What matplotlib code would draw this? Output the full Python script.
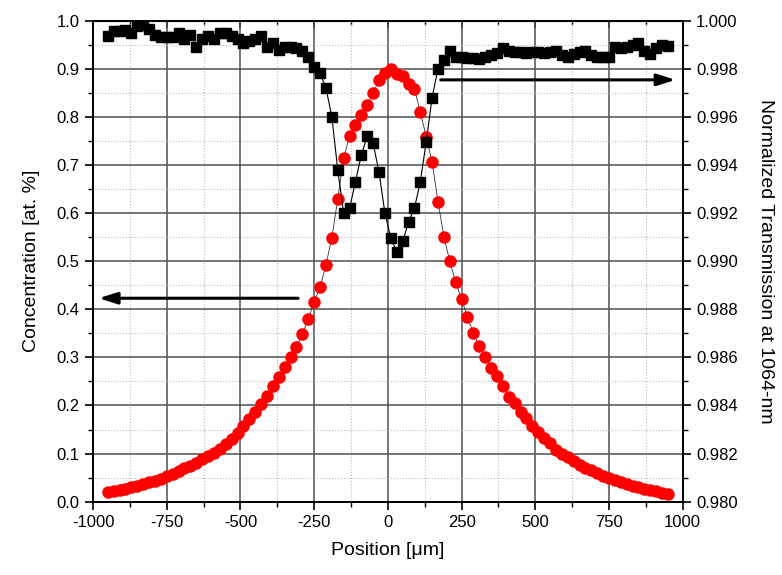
#!/usr/bin/env python3
import matplotlib
matplotlib.use('Agg')
import matplotlib.pyplot as plt
from matplotlib.ticker import MultipleLocator, FormatStrFormatter

plt.rcParams['font.family'] = ['Liberation Sans', 'DejaVu Sans']
plt.rcParams['axes.unicode_minus'] = False

# position along the sample [um], same grid for both series
position = [
    -950, -930, -910, -890, -870, -850, -830, -810, -790, -770,
    -750, -730, -710, -690, -670, -650, -630, -610, -590, -570,
    -550, -530, -510, -490, -470, -450, -430, -410, -390, -370,
    -350, -330, -310, -290, -270, -250, -230, -210, -190, -170,
    -150, -130, -110, -90, -70, -50, -30, -10, 10, 30,
    50, 70, 90, 110, 130, 150, 170, 190, 210, 230,
    250, 270, 290, 310, 330, 350, 370, 390, 410, 430,
    450, 470, 490, 510, 530, 550, 570, 590, 610, 630,
    650, 670, 690, 710, 730, 750, 770, 790, 810, 830,
    850, 870, 890, 910, 930, 950,
]

# concentration [at. %] (left axis, red circles)
concentration = [
    0.021, 0.023, 0.025, 0.027, 0.030, 0.033, 0.036, 0.040, 0.044, 0.048,
    0.053, 0.058, 0.063, 0.069, 0.075, 0.081, 0.088, 0.095, 0.102, 0.110,
    0.120, 0.131, 0.143, 0.157, 0.172, 0.187, 0.203, 0.220, 0.240, 0.260,
    0.280, 0.300, 0.322, 0.348, 0.380, 0.415, 0.446, 0.492, 0.549, 0.629,
    0.714, 0.761, 0.783, 0.804, 0.825, 0.849, 0.877, 0.891, 0.900, 0.889,
    0.884, 0.868, 0.858, 0.810, 0.759, 0.706, 0.624, 0.551, 0.500, 0.456,
    0.421, 0.384, 0.350, 0.323, 0.300, 0.278, 0.261, 0.241, 0.218, 0.206,
    0.187, 0.173, 0.157, 0.145, 0.133, 0.121, 0.108, 0.100, 0.092, 0.084,
    0.077, 0.071, 0.065, 0.059, 0.054, 0.050, 0.045, 0.041, 0.037, 0.033,
    0.030, 0.027, 0.024, 0.022, 0.019, 0.017,
]

# normalized transmission at 1064 nm (right axis, black squares)
transmission = [
    0.99938, 0.99958, 0.99958, 0.99962, 0.99948, 0.99978, 0.99982, 0.99964, 0.99940, 0.99932,
    0.99932, 0.99932, 0.99948, 0.99924, 0.99940, 0.99892, 0.99922, 0.99938, 0.99922, 0.99948,
    0.99950, 0.99936, 0.99922, 0.99908, 0.99916, 0.99922, 0.99936, 0.99892, 0.99908, 0.99878,
    0.99892, 0.99892, 0.99886, 0.99876, 0.99850, 0.99808, 0.99782, 0.99720, 0.99600, 0.99380,
    0.99200, 0.99220, 0.99330, 0.99442, 0.99520, 0.99490, 0.99370, 0.99200, 0.99096, 0.99040,
    0.99082, 0.99162, 0.99220, 0.99330, 0.99496, 0.99680, 0.99800, 0.99836, 0.99872, 0.99850,
    0.99850, 0.99844, 0.99844, 0.99840, 0.99850, 0.99858, 0.99864, 0.99886, 0.99872, 0.99870,
    0.99868, 0.99866, 0.99870, 0.99868, 0.99866, 0.99868, 0.99872, 0.99856, 0.99850, 0.99860,
    0.99870, 0.99876, 0.99858, 0.99848, 0.99848, 0.99848, 0.99892, 0.99886, 0.99892, 0.99900,
    0.99906, 0.99876, 0.99860, 0.99886, 0.99900, 0.99894,
]

fig = plt.figure(figsize=(7.82, 5.75), dpi=100)
ax = fig.add_axes([0.119, 0.1275, 0.754, 0.8365])
ax2 = ax.twinx()

# red concentration profile
ax.plot(position, concentration, color='#333333', linewidth=0.6, zorder=2)
ax.plot(position, concentration, linestyle='none', marker='o', markersize=8,
        markerfacecolor='#ff0000', markeredgecolor='#ff0000', zorder=3)

# black transmission profile
ax2.plot(position, transmission, color='black', linewidth=0.8, marker='s',
         markersize=6.5, markerfacecolor='black', markeredgecolor='black')

ax.set_xlim(-1000, 1000)
ax.set_ylim(0.0, 1.0)
ax2.set_ylim(0.980, 1.000)

ax.xaxis.set_major_locator(MultipleLocator(250))
ax.xaxis.set_minor_locator(MultipleLocator(125))
ax.yaxis.set_major_locator(MultipleLocator(0.1))
ax.yaxis.set_minor_locator(MultipleLocator(0.05))
ax.yaxis.set_major_formatter(FormatStrFormatter('%.1f'))
ax2.yaxis.set_major_locator(MultipleLocator(0.002))
ax2.yaxis.set_minor_locator(MultipleLocator(0.001))
ax2.yaxis.set_major_formatter(FormatStrFormatter('%.3f'))

ax.grid(True, which='major', color='#505050', linewidth=1.1, linestyle='-')
ax.grid(True, which='minor', color='#bbbbbb', linewidth=0.8, linestyle=':')
ax.set_axisbelow(True)

ax.tick_params(axis='both', which='both', direction='out', labelsize=12,
               top=False)
ax.tick_params(which='major', length=6, width=1.2)
ax.tick_params(which='minor', length=3.5, width=1.0)
ax2.tick_params(axis='y', which='both', direction='out', labelsize=12)
ax2.tick_params(which='major', length=6, width=1.2)
ax2.tick_params(which='minor', length=3.5, width=1.0)

# small inward ticks along the top edge
top = ax.secondary_xaxis('top')
top.xaxis.set_major_locator(MultipleLocator(250))
top.xaxis.set_minor_locator(MultipleLocator(125))
top.tick_params(which='both', direction='in', labeltop=False)
top.tick_params(which='major', length=5, width=1.2)
top.tick_params(which='minor', length=3, width=1.0)

for a in (ax, ax2):
    for s in a.spines.values():
        s.set_linewidth(1.3)

ax.set_xlabel('Position [\u03bcm]', fontsize=14, labelpad=9)
ax.set_ylabel('Concentration [at. %]', fontsize=14, labelpad=12)
ax2.set_ylabel('Normalized Transmission at 1064-nm', fontsize=14,
               rotation=270, labelpad=26)

# arrows pointing to the matching axis
arrow_style = dict(arrowstyle='-|>,head_length=1.1,head_width=0.35',
                   color='black', linewidth=2.2)
ax.annotate('', xy=(-990, 0.423), xytext=(-295, 0.423), arrowprops=arrow_style)
ax2.annotate('', xy=(985, 0.99754), xytext=(170, 0.99754), arrowprops=arrow_style)

plt.savefig('out.png', dpi=100)
